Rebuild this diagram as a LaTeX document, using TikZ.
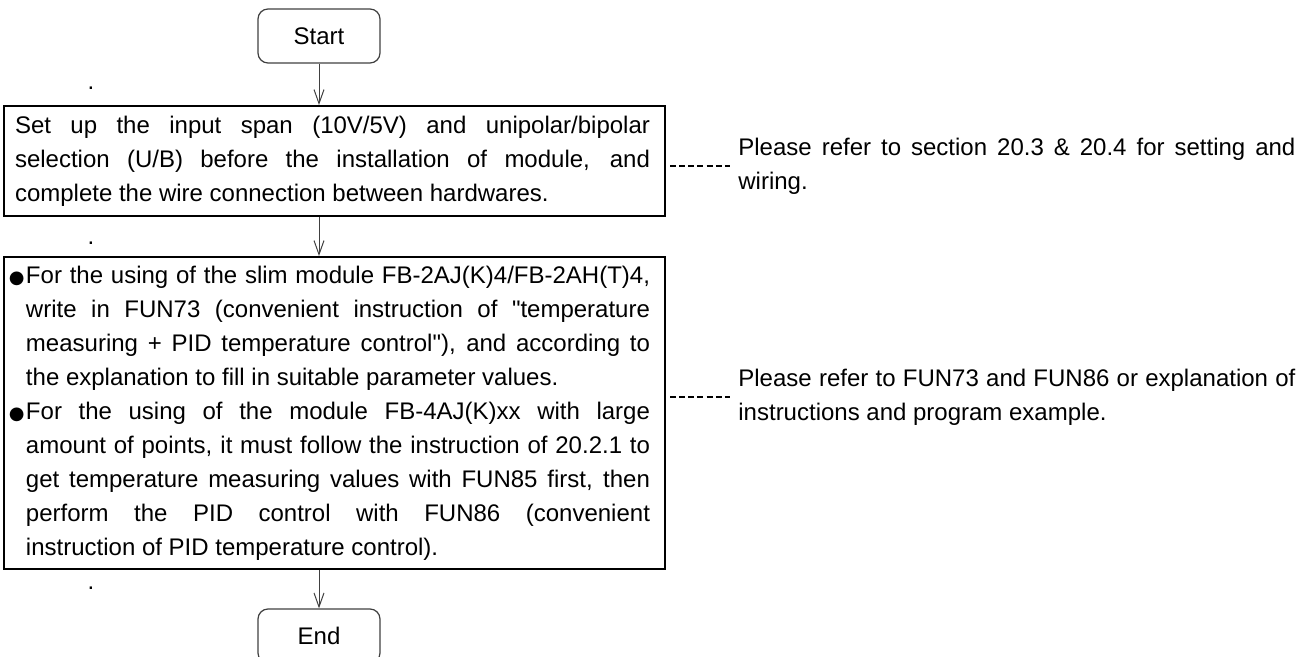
\documentclass[tikz,border=0pt]{standalone}
\usepackage{fontspec}
\setmainfont{Liberation Sans}[Ligatures=TeXOff]
\newfontfamily\symbolfont{DejaVu Sans}
\usepackage{tikz}
\usetikzlibrary{arrows.meta,positioning,calc}

\tolerance=10000
\hyphenpenalty=10000
\exhyphenpenalty=10000
\newcommand{\bulletmark}{\llap{\makebox[8.5pt][l]{\symbolfont\fontsize{9}{9}\selectfont ●}}}

\begin{document}
\begin{tikzpicture}[
    x=0.5pt, y=-0.5pt,
    font=\fontsize{12}{17}\selectfont,
    terminal/.style={rectangle, rounded corners=5pt, draw=black!75, line width=0.6pt, minimum width=61pt, minimum height=27pt, inner sep=0pt},
    stepbox/.style={rectangle, draw=black, line width=1pt, text width=325.5pt, align=justify, inner xsep=2.5pt, inner ysep=0pt},
    note/.style={anchor=west, text width=278.5pt, align=justify, inner xsep=4pt, inner ysep=0pt},
    flow/.style={-{Straight Barb[length=7pt,width=5pt]}, line width=0.5pt, draw=black!75},
    leader/.style={line width=0.9pt, dash pattern=on 3pt off 1.58pt, shorten <=2pt}
  ]
    \useasboundingbox (0,0) rectangle (1311,657);
    % flow column
    \node[terminal] (start) at (319,36) {Start};
    \node[stepbox, minimum height=55pt] (setup) at (334.5,161) {\noindent\leftskip=3pt\rightskip=5pt
      Set up the input span (10V/5V) and unipolar/bipolar\linebreak
      selection (U/B) before the installation of module, and\linebreak
      complete the wire connection between hardwares.\par};
    \node[stepbox, minimum height=156pt] (program) at (334.5,413) {%
      \noindent\leftskip=8.5pt\rightskip=5pt\bulletmark For the using of the slim module FB-2AJ(K)4/FB-2AH(T)4,\linebreak
      write in FUN73 (convenient instruction of "temperature\linebreak
      measuring + PID temperature control"), and according to\linebreak
      the explanation to fill in suitable parameter values.\par
      \noindent\bulletmark For the using of the module FB-4AJ(K)xx with large\linebreak
      amount of points, it must follow the instruction of 20.2.1 to\linebreak
      get temperature measuring values with FUN85 first, then\linebreak
      perform the PID control with FUN86 (convenient\linebreak
      instruction of PID temperature control).\par};
    \node[terminal] (finish) at (319,636) {End};
    \draw[flow] (start) -- (start |- setup.north);
    \draw[flow] (start |- setup.south) -- (start |- program.north);
    \draw[flow] (start |- program.south) -- (finish);
    % stray dots
    \node (dot1) at (91,88) {.};
    \node (dot2) at (91,243) {.};
    \node (dot3) at (91,588) {.};
    % side notes
    \node[note] (ref1) at (730,166) {Please refer to section 20.3 \& 20.4 for setting and\linebreak wiring.};
    \node[note] (ref2) at (730,397) {Please refer to FUN73 and FUN86 or explanation of\linebreak instructions and program example.};
    \draw[leader] (setup.east |- ref1.west) -- (ref1.west);
    \draw[leader] (program.east |- ref2.west) -- (ref2.west);
  \end{tikzpicture}
\end{document}
